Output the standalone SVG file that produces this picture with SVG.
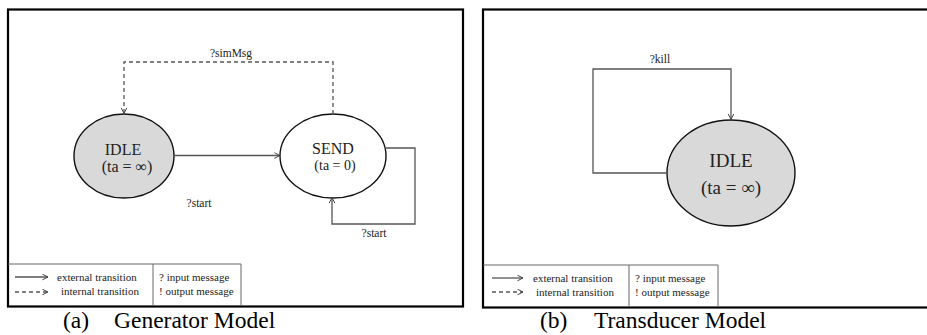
<svg xmlns="http://www.w3.org/2000/svg" width="927" height="335" viewBox="0 0 927 335">
<defs>
<marker id="v" viewBox="0 0 10 10" refX="9" refY="5" markerWidth="7" markerHeight="7" orient="auto" markerUnits="userSpaceOnUse">
<path d="M1,1 L9,5 L1,9" fill="none" stroke="#444" stroke-width="1.4"/>
</marker>
</defs>
<style>
.frame{fill:#fff;stroke:#000;stroke-width:2.2}
.leg{fill:none;stroke:#666;stroke-width:1}
.conn{fill:none;stroke:#555;stroke-width:1.3}
.dash{stroke-dasharray:4,3}
.t{font-family:"Liberation Serif","Times New Roman",serif;fill:#222}
.s{font-size:11.5px}
.l{font-size:11px}
.node{stroke:#111;stroke-width:1.4}
.cap{font-family:"Liberation Serif","Times New Roman",serif;font-size:23.5px;fill:#000}
</style>
<rect width="927" height="335" fill="#fff"/>
<!-- Panel a -->
<g id="panel-a">
<rect class="frame" x="8" y="9.5" width="455" height="297"/>
</g>
<g id="legend-a">
<path class="leg" d="M8,264 H241 V306 M153,264 V306"/>
<line class="conn" x1="15" y1="277" x2="48" y2="277" marker-end="url(#v)" stroke-width="1"/>
<line class="conn dash" x1="15" y1="292" x2="48" y2="292" marker-end="url(#v)" stroke-width="1"/>
<text class="t l" x="57" y="281">external transition</text>
<text class="t l" x="61" y="295">internal transition</text>
<text class="t l" x="159" y="281">? input message</text>
<text class="t l" x="159" y="295">! output message</text>
</g>
<g id="idle-a">
<ellipse class="node" cx="124" cy="156" rx="50" ry="42" fill="#d9d9d9"/>
<text class="t" x="123" y="155" font-size="16" text-anchor="middle">IDLE</text>
<text class="t" x="127" y="172" font-size="16" text-anchor="middle">(ta = ∞)</text>
</g>
<g id="send-a">
<ellipse class="node" cx="333" cy="156" rx="53" ry="42" fill="#fff"/>
<text class="t" x="333" y="154" font-size="16" text-anchor="middle">SEND</text>
<text class="t" x="335" y="170" font-size="14" text-anchor="middle">(ta = 0)</text>
</g>
<g id="connectors-a">
<line class="conn" x1="174" y1="155.5" x2="280" y2="155.5" marker-end="url(#v)"/>
<path class="conn dash" d="M333,114 V62 H124 V113.5" marker-end="url(#v)"/>
<path class="conn" d="M386,148 H415 V224 H332 V197.5" marker-end="url(#v)"/>
<text class="t s" x="231" y="57" text-anchor="middle">?simMsg</text>
<text class="t s" x="199" y="207" text-anchor="middle">?start</text>
<text class="t s" x="374" y="237" text-anchor="middle">?start</text>
</g>
<text class="cap" x="63" y="328">(a)</text>
<text class="cap" x="114" y="328">Generator Model</text>
<!-- Panel b -->
<g id="panel-b">
<rect class="frame" x="483" y="9.5" width="460" height="298"/>
</g>
<g id="legend-b">
<path class="leg" d="M483,265 H718 V307 M629,265 V307"/>
<line class="conn" x1="492" y1="278" x2="523" y2="278" marker-end="url(#v)" stroke-width="1"/>
<line class="conn dash" x1="492" y1="292" x2="523" y2="292" marker-end="url(#v)" stroke-width="1"/>
<text class="t l" x="533" y="282">external transition</text>
<text class="t l" x="536" y="296">internal transition</text>
<text class="t l" x="635" y="282">? input message</text>
<text class="t l" x="635" y="296">! output message</text>
</g>
<g id="idle-b">
<ellipse class="node" cx="731" cy="173" rx="64" ry="53" fill="#d9d9d9"/>
<text class="t" x="731" y="167" font-size="19" text-anchor="middle">IDLE</text>
<text class="t" x="731" y="194" font-size="19" text-anchor="middle">(ta = ∞)</text>
</g>
<g id="connectors-b">
<path class="conn" d="M667,173 H593 V69 H731 V119.5" marker-end="url(#v)"/>
<text class="t s" x="660" y="63" text-anchor="middle">?kill</text>
</g>
<text class="cap" x="540" y="328">(b)</text>
<text class="cap" x="594" y="328">Transducer Model</text>
</svg>
